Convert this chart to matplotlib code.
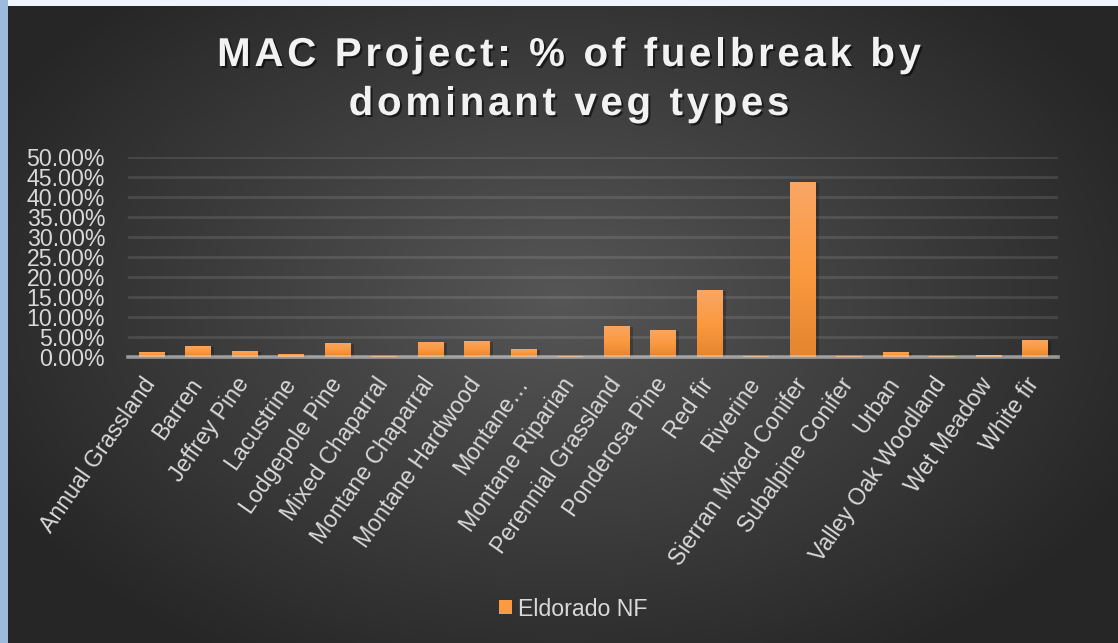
#!/usr/bin/env python3
"""MAC Project: share of fuelbreak by dominant vegetation type (Eldorado NF)."""

import numpy as np
import matplotlib

matplotlib.use("Agg")
import matplotlib.pyplot as plt
import matplotlib.patheffects as pe
import matplotlib.ticker as mticker
from matplotlib.font_manager import FontProperties
from matplotlib.transforms import ScaledTranslation

categories = [
    "Annual Grassland", "Barren", "Jeffrey Pine", "Lacustrine", "Lodgepole Pine",
    "Mixed Chaparral", "Montane Chaparral", "Montane Hardwood", "Montane\u2026",
    "Montane Riparian", "Perennial Grassland", "Ponderosa Pine", "Red fir",
    "Riverine", "Sierran Mixed Conifer", "Subalpine Conifer", "Urban",
    "Valley Oak Woodland", "Wet Meadow", "White fir",
]
# percent of fuelbreak
eldorado_nf = [
    1.3, 2.8, 1.5, 0.8, 3.6,
    0.3, 3.8, 4.1, 2.1,
    0.3, 7.8, 6.8, 16.8,
    0.3, 43.8, 0.3, 1.3,
    0.3, 0.6, 4.3,
]
series_name = "Eldorado NF"
title_lines = ["MAC Project: % of fuelbreak by", "dominant veg types"]
y_ticks = [0, 5, 10, 15, 20, 25, 30, 35, 40, 45, 50]

W, H, DPI = 1118, 643, 100
FONT = ["Liberation Sans", "DejaVu Sans"]
LABEL = "#d9d9d9"

plt.rcParams["font.family"] = FONT

fig = plt.figure(figsize=(W / DPI, H / DPI), dpi=DPI)

# background: radial grey panel, with slide edges top and left
yy, xx = np.mgrid[0:H, 0:W]
d = np.sqrt(((xx - 560) / 640.0) ** 2 + ((yy - 300) / 420.0) ** 2)
t = np.clip(d, 0, 1)[..., None]
light = np.array([0x56, 0x56, 0x56]) / 255
dark = np.array([0x26, 0x26, 0x26]) / 255
bg = light * (1 - t) + dark * t
bg[:6, :] = np.array([0xEE, 0xF5, 0xFD]) / 255
bg[:, :8] = np.array([0x9C, 0xBA, 0xDD]) / 255
bg_ax = fig.add_axes([0, 0, 1, 1], zorder=-10)
bg_ax.imshow(bg, aspect="auto", interpolation="bilinear")
bg_ax.set_axis_off()

ax = fig.add_axes([128 / W, 1 - 357 / H, 930 / W, 200 / H])
ax.set_facecolor("none")

x = np.arange(len(categories))
vals = np.array(eldorado_nf)

# soft shadow behind the bars
ax.bar(x + 0.04, vals, width=0.62, bottom=-0.25, color="black", alpha=0.22,
       linewidth=0, zorder=1)
bars = ax.bar(x, vals, width=0.54, color="#fb9a40", linewidth=0, zorder=2,
              label=series_name)

grad = np.array([[0xF9, 0xA6, 0x66], [0xFB, 0x9A, 0x40], [0xE5, 0x85, 0x2E]]) / 255
gy = np.linspace(0, 1, 64)
grad_img = np.empty((64, 1, 3))
for c in range(3):
    grad_img[:, 0, c] = np.interp(gy, [0, 0.5, 1], grad[:, c])
for rect in bars:
    x0, y0 = rect.get_x(), rect.get_y()
    im = ax.imshow(grad_img, extent=(x0, x0 + rect.get_width(), y0, y0 + rect.get_height()),
                   aspect="auto", zorder=2.5, interpolation="bilinear")
    im.set_clip_path(rect)

ax.set_xlim(-0.5, len(categories) - 0.5)
ax.set_ylim(0, 50)
ax.set_yticks(y_ticks)
ax.yaxis.set_major_formatter(mticker.FuncFormatter(lambda v, _: f"{v:.2f}%"))
ax.tick_params(axis="y", length=0, pad=16.5, labelsize=16.7, labelcolor=LABEL)
ax.set_xticks([])
ax.grid(axis="y", color="white", alpha=0.1, linewidth=2.2, zorder=0)
ax.set_axisbelow(True)
for s in ax.spines.values():
    s.set_visible(False)
ax.axhline(0, color="#d9d9d9", alpha=0.6, linewidth=2.6, zorder=4, clip_on=False)

off = ScaledTranslation(0 / DPI, -23 / DPI, fig.dpi_scale_trans)
for i, name in enumerate(categories):
    ax.text(i, 0, name, transform=ax.get_xaxis_transform() + off, rotation=55,
            rotation_mode="anchor", ha="right", va="center", fontsize=16.7,
            color=LABEL)

leg = fig.legend(handles=[bars], loc="center", bbox_to_anchor=(573 / W, 1 - 609 / H),
                 frameon=False, fontsize=16.7, handlelength=0.55, handleheight=0.55,
                 handletextpad=0.25, borderpad=0)
for txt in leg.get_texts():
    txt.set_color(LABEL)


# title with wide letter spacing, placed glyph by glyph
def tracked_text(text, cx, baseline, size, tracking):
    renderer = fig.canvas.get_renderer()
    fp = FontProperties(family=FONT, weight="bold", size=size)

    def width(s):
        return renderer.get_text_width_height_descent(s, fp, ismath=False)[0]

    base = width("|")
    offsets = [width(text[:i] + "|") - base for i in range(len(text))]
    total = width(text) + tracking * (len(text) - 1)
    start = cx - total / 2
    for i, ch in enumerate(text):
        if ch == " ":
            continue
        fig.text((start + offsets[i] + i * tracking) / W, 1 - baseline / H, ch,
                 fontproperties=fp, color="#f2f2f2", ha="left", va="baseline",
                 path_effects=[pe.withSimplePatchShadow(offset=(1.5, -1.5),
                                                        shadow_rgbFace="black",
                                                        alpha=0.55)])


tracked_text(title_lines[0], 569, 66, 29, 3.7)
tracked_text(title_lines[1], 569, 115, 29, 3.7)

fig.savefig("out.png", dpi=DPI)
